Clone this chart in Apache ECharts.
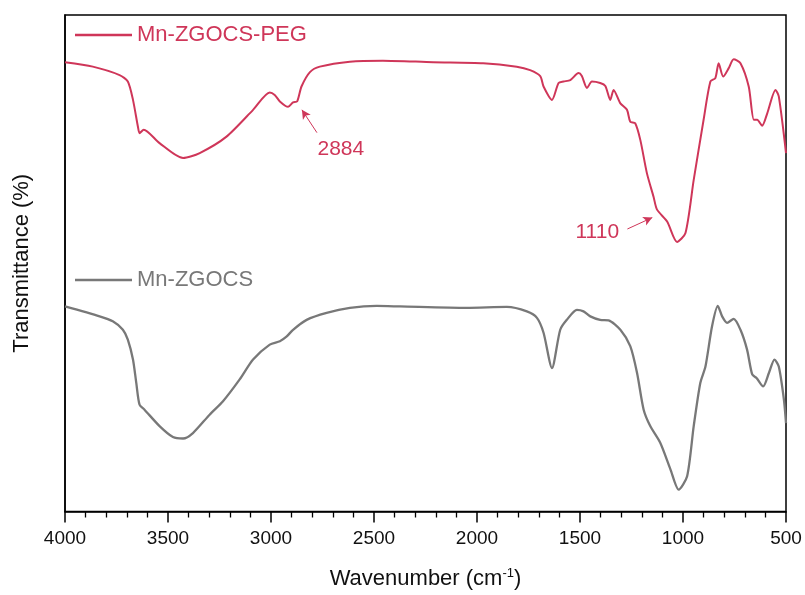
<!DOCTYPE html>
<html>
<head>
<meta charset="utf-8">
<script src="https://cdn.jsdelivr.net/npm/echarts@6/dist/echarts.min.js"></script>
<style>html,body{margin:0;padding:0;background:#fff}#c{width:805px;height:595px}</style>
</head>
<body>
<div id="c"></div>
<script>
// Mn-ZGOCS-PEG (red) — wavenumber (cm-1) and transmittance (a.u., offset)
var pegWavenumber = [4000,3865,3735,3695,3670,3646,3638,3618,3541,3427,3346,3216,3087,3006,2982,2957,2917,2893,2873,2852,2811,2763,2617,2457,2213,1970,1807,1742,1693,1677,1636,1604,1580,1547,1507,1491,1466,1442,1402,1377,1353,1337,1304,1272,1256,1232,1207,1175,1143,1126,1077,1029,988,948,900,867,843,827,805,778,754,721,681,656,640,616,591,551,535,500];
var pegValue = [90.5,89.6,87.9,86.6,82.9,77.5,76.2,76.9,74.2,71.2,72.2,75.5,80.9,84.4,83.9,82.6,81.5,82.4,82.6,85.6,88.5,89.6,90.6,90.8,90.5,90.3,89.6,88.9,87.7,85.6,82.9,86.3,86.6,86.9,88.3,87.7,85.3,86.6,86.3,85.7,82.9,84.9,82.2,80.9,78.5,78.2,74.8,68.1,63.4,60.8,58.4,54.3,56.1,66.8,78.9,86.6,87.3,90.3,87.6,89.3,91.1,90.3,85.6,78.9,78.9,77.7,80.2,84.9,83.6,72.2];
// Mn-ZGOCS (gray)
var zgWavenumber = [4000,3832,3768,3719,3695,3670,3654,3638,3614,3541,3476,3427,3379,3298,3233,3152,3087,3006,2957,2925,2893,2827,2730,2617,2487,2374,2050,1855,1758,1709,1677,1636,1596,1564,1515,1483,1450,1402,1361,1304,1256,1223,1191,1159,1110,1061,1021,980,948,916,891,859,831,810,786,754,721,689,664,643,611,583,556,535,510,500];
var zgValue = [41.3,39.3,38.3,36.6,34.6,30.6,25.9,21.5,20.5,17.2,15.0,14.7,15.8,19.5,22.2,26.6,30.6,33.6,34.3,35.2,36.6,38.6,40.0,41.0,41.4,41.3,41.0,41.2,40.3,39.0,36.0,28.9,36.6,38.6,40.6,40.3,39.3,38.6,38.5,36.6,33.3,27.9,20.5,17.2,13.8,8.5,4.4,7.1,17.2,25.9,29.2,37.3,41.4,39.3,38.0,38.8,36.6,32.6,27.6,26.9,25.2,27.9,30.6,29.2,22.5,17.8];
// annotations
var annotLabels = ['2884', '1110'];
var annotTextPos = [[2661, 73.0], [1416, 56.3]];
var annotArrows = [[[2777, 76.3], [2850, 80.9]], [[1270, 56.9], [1149, 59.2]]];

var seriesNames = ['Mn-ZGOCS-PEG', 'Mn-ZGOCS'];
var red = '#cf3659', gray = '#787878';
var font = 'Liberation Sans, Arial, sans-serif';

function zip(a, b) { return a.map(function (v, i) { return [v, b[i]]; }); }

var chart = echarts.init(document.getElementById('c'));
chart.setOption({
  animation: false,
  textStyle: { fontFamily: font },
  grid: { left: 65, right: 19, top: 15, bottom: 83, show: true, borderColor: '#000', borderWidth: 1.5 },
  legend: [
    { data: [seriesNames[0]], left: 70, top: 19, icon: 'rect', itemWidth: 57, itemHeight: 2.5, itemGap: 5,
      textStyle: { color: red, fontSize: 22, fontFamily: font } },
    { data: [seriesNames[1]], left: 70, top: 264, icon: 'rect', itemWidth: 57, itemHeight: 2.5, itemGap: 5,
      textStyle: { color: gray, fontSize: 22, fontFamily: font } }
  ],
  xAxis: {
    type: 'value', inverse: true, min: 500, max: 4000, interval: 500,
    name: 'Wavenumber (cm{sup|-1})', nameLocation: 'middle', nameGap: 55,
    nameTextStyle: { fontSize: 22, color: '#111', rich: { sup: { fontSize: 13, verticalAlign: 'top', padding: [0, 0, 12, 0], color: '#111' } } },
    axisLine: { onZero: false, lineStyle: { color: '#000', width: 1.5 } },
    axisTick: { show: true, length: 11, inside: false, lineStyle: { color: '#000', width: 1.5 } },
    minorTick: { show: true, splitNumber: 5, length: 6, lineStyle: { color: '#000', width: 1.3 } },
    splitLine: { show: false },
    axisLabel: { fontSize: 19, color: '#111', margin: 18, formatter: function (v) { return String(v); } }
  },
  yAxis: {
    type: 'value', min: 0, max: 100,
    name: 'Transmittance (%)', nameLocation: 'middle', nameGap: 32,
    nameTextStyle: { fontSize: 22, color: '#111' },
    axisLine: { show: true, lineStyle: { color: '#000', width: 1.5 } },
    axisTick: { show: false }, axisLabel: { show: false }, splitLine: { show: false }
  },
  series: [
    {
      name: seriesNames[0], type: 'line', data: zip(pegWavenumber, pegValue),
      showSymbol: false, smooth: 0.25, lineStyle: { color: red, width: 2 }, itemStyle: { color: red },
      markLine: {
        silent: true, symbol: ['none', 'arrow'], symbolSize: [7, 9],
        lineStyle: { color: red, width: 1, type: 'solid' }, label: { show: false },
        data: annotArrows.map(function (a) { return [{ coord: a[0] }, { coord: a[1] }]; })
      },
      markPoint: {
        silent: true, symbol: 'circle', symbolSize: 0,
        label: { show: true, color: red, fontSize: 21, position: 'inside' },
        data: annotLabels.map(function (t, i) { return { coord: annotTextPos[i], value: t }; })
      }
    },
    {
      name: seriesNames[1], type: 'line', data: zip(zgWavenumber, zgValue),
      showSymbol: false, smooth: 0.25, lineStyle: { color: gray, width: 2.3 }, itemStyle: { color: gray }
    }
  ]
});
</script>
</body>
</html>
